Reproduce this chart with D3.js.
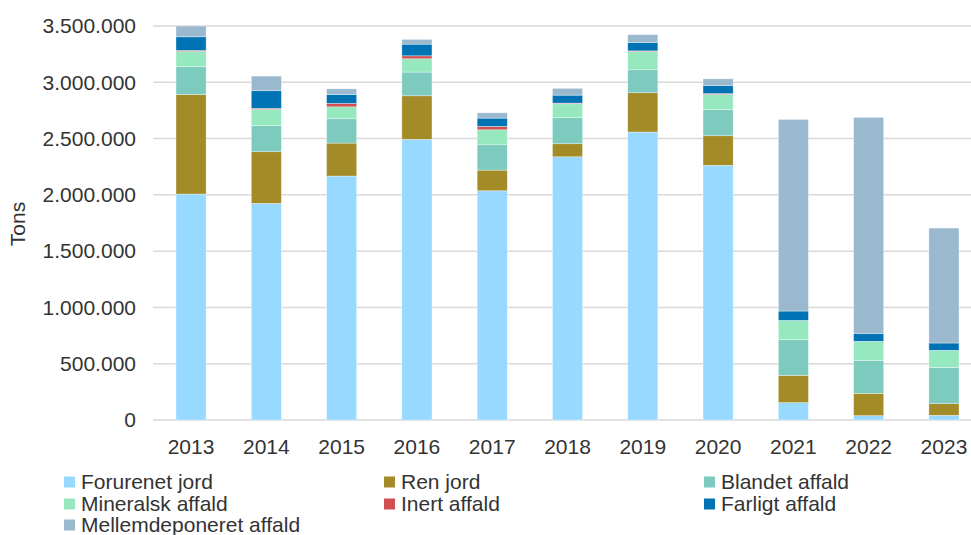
<!DOCTYPE html>
<html>
<head>
<meta charset="utf-8">
<script src="https://cdn.jsdelivr.net/npm/d3@7"></script>
<style>
  body { margin: 0; background: #fff; }
  text { font-family: "Liberation Sans", Arial, sans-serif; fill: #333; }
</style>
</head>
<body>
<div class="container"></div>
<script>
const WIDTH = 971;
const HEIGHT = 535;
const FONT = 21;

var years = ['2013', '2014', '2015', '2016', '2017', '2018', '2019', '2020', '2021', '2022', '2023'];
var seriesNames = ['Forurenet jord', 'Ren jord', 'Blandet affald', 'Mineralsk affald',
    'Inert affald', 'Farligt affald', 'Mellemdeponeret affald'];
var colors = ['#97d9ff', '#a38b28', '#7dcbbf', '#96e8bf', '#d05050', '#0073b4', '#9ab9ce'];

var forurenetJord = [2007000, 1924000, 2167000, 2493000, 2036000, 2338000, 2558000, 2262000, 154000, 38000, 42000];
var renJord = [885000, 459000, 293000, 387000, 184000, 116000, 349000, 263000, 243000, 199000, 103000];
var blandetAffald = [246000, 231000, 216000, 211000, 225000, 231000, 204000, 231000, 316000, 293000, 323000];
var mineralskAffald = [136000, 145000, 106000, 118000, 133000, 124000, 163000, 136000, 172000, 169000, 151000];
var inertAffald = [9000, 9000, 30000, 26000, 30000, 6000, 5000, 7000, 0, 0, 0];
var farligtAffald = [121000, 157000, 80000, 104000, 74000, 71000, 76000, 73000, 83000, 71000, 65000];
var mellemAffald = [96000, 130000, 50000, 42000, 47000, 60000, 68000, 59000, 1702000, 1918000, 1021000];

var yTicks = [0, 500000, 1000000, 1500000, 2000000, 2500000, 3000000, 3500000];

var allSeries = [forurenetJord, renJord, blandetAffald, mineralskAffald, inertAffald, farligtAffald, mellemAffald];

var translate = function(x, y) {
    return `translate(${x},${y})`;
};

var fmt = function(v) {
    return d3.format(',')(v).replace(/,/g, '.');
};

var fillLayout = function() {
    var svg = d3.select('.container').append('svg')
        .attr('width', WIDTH)
        .attr('height', HEIGHT);

    var rows = years.map((y, i) => {
        var r = { year: y };
        seriesNames.forEach((s, j) => r[s] = allSeries[j][i]);
        return r;
    });
    var stacked = d3.stack().keys(seriesNames)(rows);

    let xScale = d3.scaleBand()
        .domain(years)
        .range([153.4, 981.6])
        .paddingInner(0.6)
        .paddingOuter(0.3);

    let yScale = d3.scaleLinear()
        .domain([0, 3500000])
        .range([420, 26]);

    // gridlines
    svg.append('g').selectAll('line').data(yTicks).enter()
        .append('line')
        .attr('x1', 153).attr('x2', WIDTH)
        .attr('y1', (d) => yScale(d)).attr('y2', (d) => yScale(d))
        .attr('stroke', '#d9d9d9')
        .attr('stroke-width', 1.5);

    // y axis labels
    let yAxis = d3.axisLeft(yScale).tickValues(yTicks).tickFormat(fmt).tickSize(0).tickPadding(0);
    var yg = svg.append('g')
        .attr('transform', translate(136, 0))
        .call(yAxis);
    yg.select('.domain').remove();
    yg.selectAll('text').attr('font-size', FONT).attr('fill', '#333')
        .attr('font-family', '"Liberation Sans", Arial, sans-serif');

    // bars
    var layers = svg.append('g').selectAll('g').data(stacked).enter()
        .append('g')
        .attr('fill', (d, i) => colors[i]);
    layers.selectAll('rect').data((d) => d).enter()
        .append('rect')
        .attr('x', (d) => xScale(d.data.year))
        .attr('width', xScale.bandwidth())
        .attr('y', (d) => yScale(d[1]))
        .attr('height', (d) => yScale(d[0]) - yScale(d[1]))
        .attr('stroke', 'rgba(255,255,255,0.6)')
        .attr('stroke-width', 0.6);

    // x axis
    let xAxis = d3.axisBottom(xScale).tickSize(0).tickPadding(19);
    var xg = svg.append('g')
        .attr('transform', translate(0, 420))
        .call(xAxis);
    xg.select('.domain').remove();
    xg.selectAll('text').attr('font-size', FONT).attr('fill', '#333')
        .attr('font-family', '"Liberation Sans", Arial, sans-serif');

    // axis title
    svg.append('text')
        .attr('transform', translate(25, 224) + ' rotate(-90)')
        .attr('text-anchor', 'middle')
        .attr('font-size', FONT)
        .text('Tons');

    // legend
    var legendX = [64, 384, 704];
    var legendY = [482, 504, 525];
    var legend = svg.append('g').selectAll('g').data(seriesNames).enter()
        .append('g')
        .attr('transform', (d, i) => translate(legendX[i % 3], legendY[Math.floor(i / 3)]));
    legend.append('rect')
        .attr('x', 0).attr('y', -5.5)
        .attr('width', 11).attr('height', 11)
        .attr('fill', (d, i) => colors[i]);
    legend.append('text')
        .attr('x', 17)
        .attr('dy', '0.35em')
        .attr('font-size', FONT)
        .text((d) => d);
};
window.onload = fillLayout;
</script>
</body>
</html>
